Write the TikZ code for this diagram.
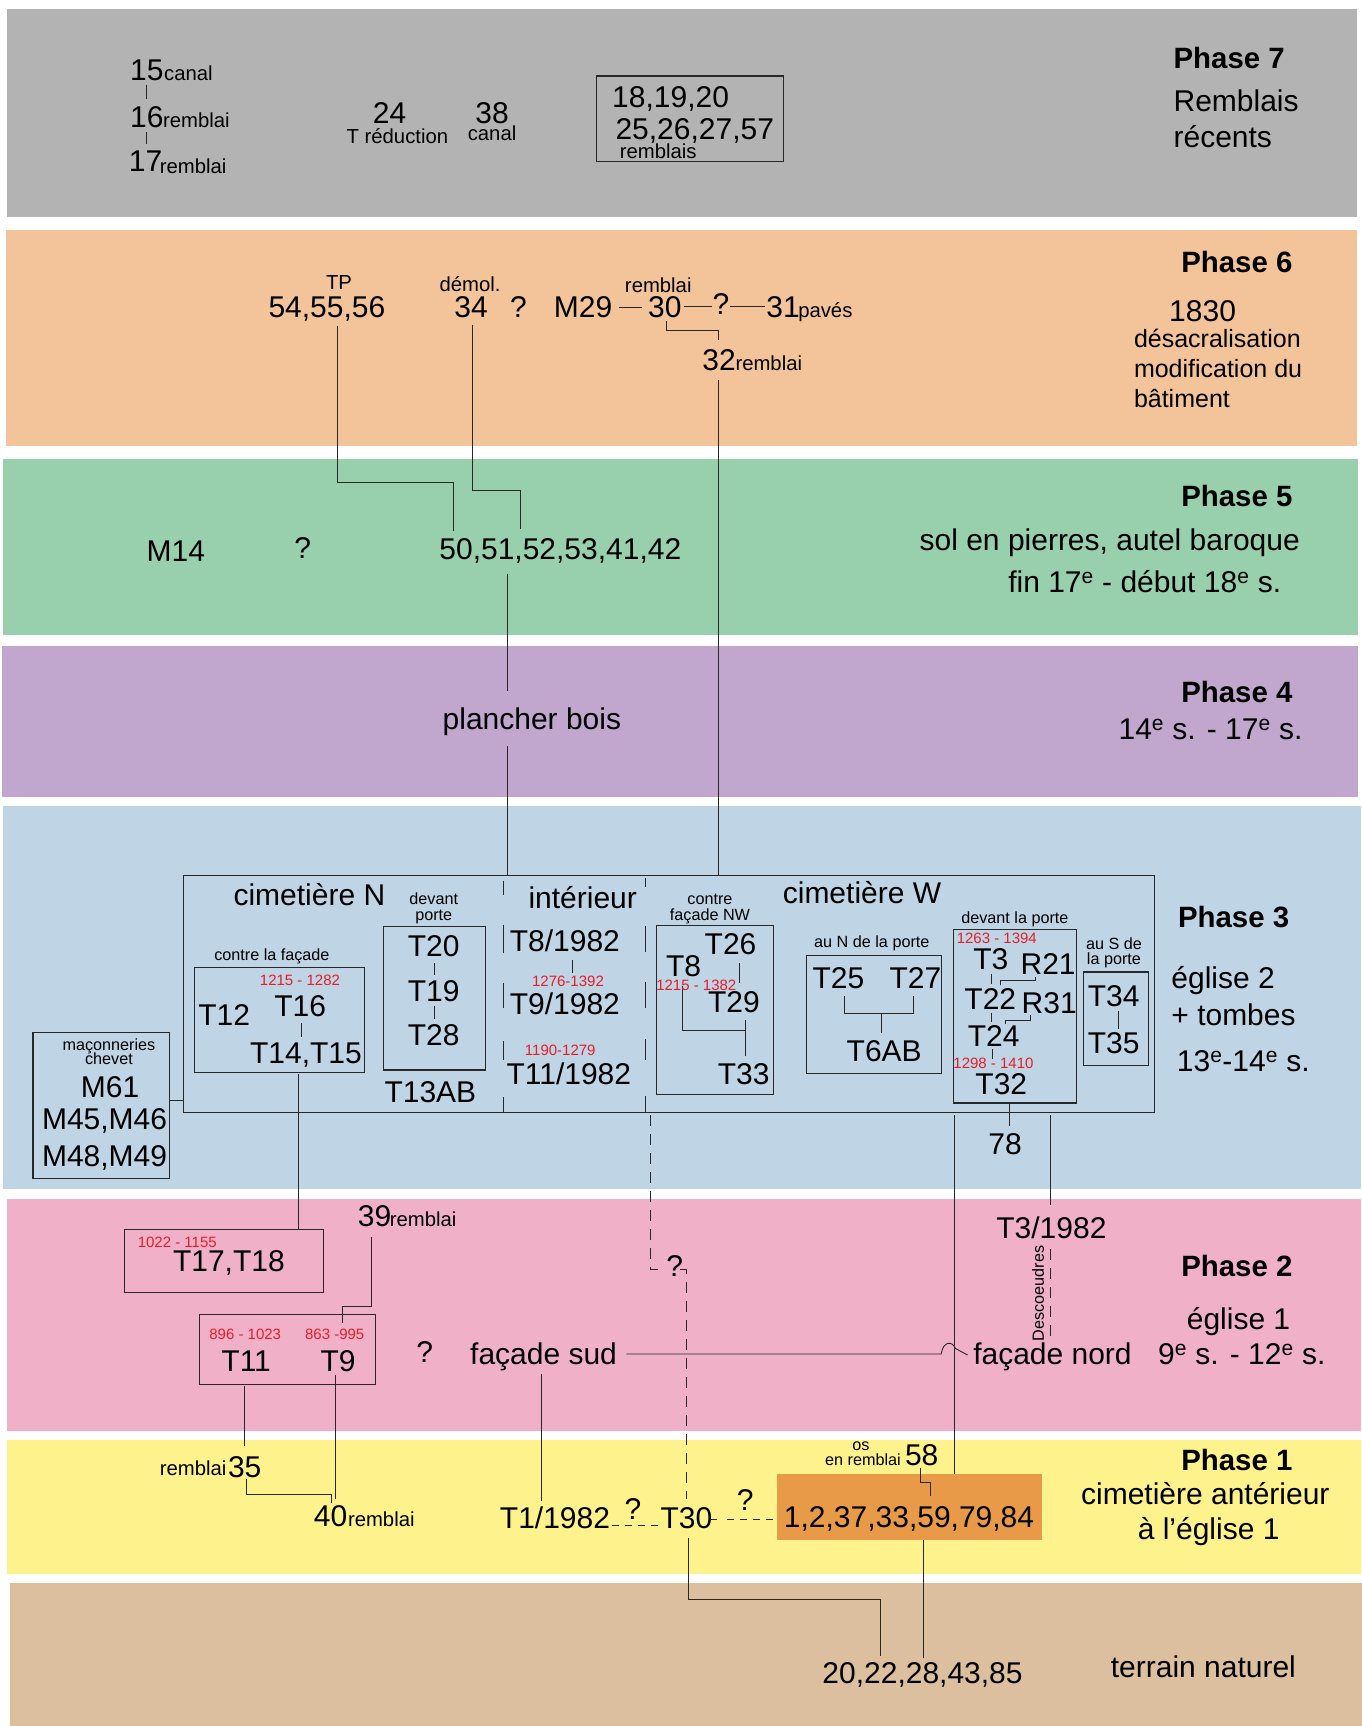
\documentclass[tikz,border=0pt]{standalone}
\usepackage{fontspec}
\setmainfont{Liberation Sans}
\usetikzlibrary{calc}
\definecolor{cseven}{RGB}{179,179,179}
\definecolor{csix}{RGB}{243,195,153}
\definecolor{cfive}{RGB}{152,208,173}
\definecolor{cfour}{RGB}{193,166,205}
\definecolor{cthree}{RGB}{191,212,228}
\definecolor{ctwo}{RGB}{240,176,200}
\definecolor{cone}{RGB}{254,242,141}
\definecolor{czero}{RGB}{220,191,159}
\definecolor{corange}{RGB}{232,154,72}
\definecolor{cred}{RGB}{230,30,40}
\definecolor{cline}{RGB}{40,40,40}
\tikzset{
 tx/.style={font=\fontsize{30}{32}\selectfont, inner sep=0pt},
 ph/.style={font=\fontsize{29.4}{31}\selectfont\bfseries, inner sep=0pt},
 md/.style={font=\fontsize{25}{27}\selectfont, inner sep=0pt},
 sm/.style={font=\fontsize{20.3}{22}\selectfont, inner sep=0pt},
 ti/.style={font=\fontsize{16.2}{17}\selectfont, inner sep=0pt},
 rd/.style={font=\fontsize{15}{16}\selectfont, inner sep=0pt, text=cred},
 ln/.style={draw=cline, line width=0.9pt},
 bx/.style={draw=cline, line width=1.1pt},
 dsh/.style={draw=cline, line width=0.9pt, dash pattern=on 11pt off 8pt},
}
\begin{document}
\begin{tikzpicture}[x=1.1011pt,y=-1.1011pt]
\useasboundingbox (0,0) rectangle (1237,1568);
% bands
\fill[cseven] (6,8) rectangle (1233,197);
\fill[csix] (5,209) rectangle (1233,405);
\fill[cfive] (3,417) rectangle (1234,577);
\fill[cfour] (2,587) rectangle (1234,724);
\fill[cthree] (3,732) rectangle (1236,1080);
\fill[ctwo] (6,1089) rectangle (1236,1300);
\fill[cone] (6,1308) rectangle (1236,1430);
\fill[czero] (9,1438) rectangle (1237,1568);

% ---------------- Phase 7
\node[tx,anchor=base west] (n15) at (118,73) {15};
\node[sm,anchor=base west] (l15) at (149,73) {canal};
\node[tx,anchor=base west] (n16) at (118,116) {16};
\node[sm,anchor=base west] (l16) at (148,116) {remblai};
\node[tx,anchor=base west] (n17) at (117,156) {17};
\node[sm,anchor=base west] (l17) at (145,158) {remblai};
\coordinate (t15a) at (133,77); \coordinate (t15b) at (133,90);
\coordinate (t16a) at (133,120); \coordinate (t16b) at (133,131);
\draw[ln] (t15a) -- (t15b);
\draw[ln] (t16a) -- (t16b);
\node[tx,anchor=base] (n24) at (354,112) {24};
\node[sm,anchor=base] (l24) at (361,130) {T réduction};
\node[tx,anchor=base] (n38) at (447,112) {38};
\node[sm,anchor=base] (l38) at (447,128) {canal};
\draw[bx] (542,69) rectangle (712,147);
\node[tx,anchor=base west] (n18) at (556,98) {18,19,20};
\node[tx,anchor=base west] (n25) at (559,127) {25,26,27,57};
\node[sm,anchor=base west] (l25) at (563,144) {remblais};
\node[ph,anchor=base west] (p7) at (1066,62) {Phase 7};
\node[tx,anchor=base west] (p7a) at (1066,101) {Remblais};
\node[tx,anchor=base west] (p7b) at (1066,134) {récents};

% ---------------- Phase 6
\node[ph,anchor=base west] (p6) at (1073,248) {Phase 6};
\node[tx,anchor=base west] (p6a) at (1062,292) {1830};
\node[md,anchor=base west] (p6b) at (1030,316) {désacralisation};
\node[md,anchor=base west] (p6c) at (1030,343) {modification du};
\node[md,anchor=base west] (p6d) at (1030,370) {bâtiment};
\node[sm,anchor=base] (lTP) at (308,263) {TP};
\node[tx,anchor=base] (n54) at (297,288) {54,55,56};
\node[sm,anchor=base] (ldem) at (427,265) {démol.};
\node[tx,anchor=base] (n34) at (428,288) {34};
\node[tx,anchor=base] (q34) at (471,288) {?};
\node[tx,anchor=base west] (m29) at (503,288) {M29};
\node[sm,anchor=base] (l30) at (598,266) {remblai};
\node[tx,anchor=base] (n30) at (604,288) {30};
\node[tx,anchor=base west] (n31) at (696,288) {31};
\node[sm,anchor=base west] (l31) at (725,288) {pavés};
\node[tx,anchor=base west] (n32) at (638,337) {32};
\node[sm,anchor=base west] (l32) at (668,337) {remblai};
\coordinate (m29r) at (562,279); \coordinate (n30l) at (583,279);
\draw[ln] (m29r) -- (n30l);
\coordinate (n30r) at (621,278); \coordinate (n31l) at (695,278);
\draw[ln] (n30r) -- (n31l);
\node[tx,anchor=base,fill=csix,inner xsep=1pt] (q30) at (655,286) {?};
\coordinate (n30b) at (605,292); \coordinate (n32t) at (653,309);
\draw[ln] (n30b) |- (629,300) -| (n32t);
% 54 and 34 to 50
\node[tx,anchor=base west] (n50) at (399,508) {50,51,52,53,41,42};
\coordinate (n54b) at (307,296); \coordinate (n50a) at (412,482);
\draw[ln] (n54b) |- (360,438) -| (n50a);
\coordinate (n34b) at (429,295); \coordinate (n50b) at (473,481);
\draw[ln] (n34b) |- (450,446) -| (n50b);

% ---------------- Phase 5
\node[tx,anchor=base west] (m14) at (133,510) {M14};
\node[tx,anchor=base] (q5) at (275,507) {?};
\node[ph,anchor=base west] (p5) at (1073,460) {Phase 5};
\node[tx,anchor=base east] (p5a) at (1181,500) {sol en pierres, autel baroque};
\node[tx,anchor=base east] (p5b) at (1164,538) {fin 17\textsuperscript{e} - début 18\textsuperscript{e} s.};

% ---------------- Phase 4
\node[tx,anchor=base west] (pb) at (402,663) {plancher bois};
\node[ph,anchor=base west] (p4) at (1073,638) {Phase 4};
\node[tx,anchor=base west] (p4a) at (1016,672) {14\textsuperscript{e} s. - 17\textsuperscript{e} s.};
\coordinate (n50c) at (461,521); \coordinate (pbt) at (461,628);
\draw[ln] (n50c) -- (pbt);

% ---------------- Phase 3
\coordinate (bigNW) at (167,795); \coordinate (bigSE) at (1049,1011);
\draw[bx] (bigNW) rectangle (bigSE);
\coordinate (pbb) at (461,678);
\draw[ln] (pbb) -- (pbb |- bigNW);
\coordinate (n32b) at (653,345);
\draw[ln] (n32b) -- (n32b |- bigNW);
\node[ph,anchor=base west] (p3) at (1070,843) {Phase 3};
\node[tx,anchor=base west] (p3a) at (1064,898) {église 2};
\node[tx,anchor=base west] (p3b) at (1064,932) {+ tombes};
\node[tx,anchor=base west] (p3c) at (1069,973) {13\textsuperscript{e}-14\textsuperscript{e} s.};

% cimetiere N
\node[tx,anchor=base west] (cN) at (212,823) {cimetière N};
\node[ti,anchor=base] (dv1) at (394,822) {devant};
\node[ti,anchor=base] (dv2) at (394,836) {porte};
\draw[bx] (348,842) rectangle (441,972);
\node[tx,anchor=base] (t20) at (394,869) {T20};
\node[tx,anchor=base] (t19) at (394,910) {T19};
\node[tx,anchor=base] (t28) at (394,950) {T28};
\draw[ln] (395,875) -- (395,886);
\draw[ln] (395,914) -- (395,926);
\node[tx,anchor=base] (t13) at (391,1002) {T13AB};
\node[ti,anchor=base] (clf) at (247,873) {contre la façade};
\draw[bx] (177,879) rectangle (331,974);
\node[rd,anchor=base west] (d16) at (236,895) {1215 - 1282};
\node[tx,anchor=base west] (t16) at (249,923) {T16};
\node[tx,anchor=base west] (t12) at (180,932) {T12};
\draw[ln] (274,929) -- (274,942);
\node[tx,anchor=base west] (t14) at (227,966) {T14,T15};

% interieur
\node[tx,anchor=base west] (int) at (480,825) {intérieur};
\node[tx,anchor=base west] (t8i) at (463,864) {T8/1982};
\draw[ln] (520,872) -- (520,884);
\node[rd,anchor=base] (d9) at (516,896) {1276-1392};
\node[tx,anchor=base west] (t9i) at (463,922) {T9/1982};
\node[rd,anchor=base] (d11) at (509,959) {1190-1279};
\node[tx,anchor=base west] (t11i) at (460,985) {T11/1982};
\foreach \a/\b in {800/813,840/866,893/916,946/963,997/1011}
  \draw[ln] (457,\a) -- (457,\b);
\foreach \a/\b in {798/806,841/865,892/916,944/963,996/1011}
  \draw[ln] (586,\a) -- (586,\b);

% contre facade NW
\node[ti,anchor=base] (cf1) at (645,822) {contre};
\node[ti,anchor=base] (cf2) at (645,836) {façade NW};
\draw[bx] (596,841) rectangle (703,994);
\node[tx,anchor=base west] (t26) at (640,867) {T26};
\node[tx,anchor=base west] (t8) at (605,887) {T8};
\draw[ln] (620,896) |- (677,936);
\draw[ln] (677,927) -- (677,959);
\node[rd,anchor=base west] (d8) at (596,900) {1215 - 1382};
\node[tx,anchor=base west] (t29) at (643,920) {T29};
\node[tx,anchor=base west] (t33) at (652,985) {T33};
\draw[ln] (672,875) -- (672,893);

% cimetiere W
\node[tx,anchor=base west] (cW) at (711,821) {cimetière W};
\node[ti,anchor=base] (auN) at (792,861) {au N de la porte};
\draw[bx] (733,868) rectangle (855,975);
\node[tx,anchor=base west] (t25) at (738,898) {T25};
\node[tx,anchor=base west] (t27) at (808,898) {T27};
\draw[ln] (767,905) |- (830,921) -- (830,905);
\draw[ln] (801,921) -- (801,938);
\node[tx,anchor=base west] (t6) at (769,964) {T6AB};

\node[ti,anchor=base] (dlp) at (922,839) {devant la porte};
\draw[bx] (866,844) rectangle (978,1002);
\node[rd,anchor=base west] (d3) at (869,857) {1263 - 1394};
\node[tx,anchor=base west] (t3) at (884,881) {T3};
\node[tx,anchor=base west] (r21) at (927,885) {R21};
\node[tx,anchor=base west] (t22) at (876,917) {T22};
\node[tx,anchor=base west] (r31) at (928,921) {R31};
\node[tx,anchor=base west] (t24) at (879,951) {T24};
\node[rd,anchor=base west] (d32) at (866,971) {1298 - 1410};
\node[tx,anchor=base west] (t32) at (886,994) {T32};
\draw[ln] (901,885) -- (901,894);
\draw[ln] (909,895) -- (909,891) -- (941,891) -- (941,888);
\draw[ln] (901,920) -- (901,928);
\draw[ln] (913,930) -- (913,927) -- (936,927) -- (936,922);
\draw[ln] (902,953) -- (902,962);

\node[ti,anchor=base] (auS1) at (1012,863) {au S de};
\node[ti,anchor=base] (auS2) at (1012,876) {la porte};
\draw[bx] (984,883) rectangle (1043,968);
\node[tx,anchor=base west] (t34) at (988,914) {T34};
\node[tx,anchor=base west] (t35) at (988,957) {T35};
\draw[ln] (1016,918) -- (1016,935);

% maconneries
\draw[bx] (30,938) rectangle (154,1071);
\node[ti,anchor=base] (mc1) at (99,954) {maçonneries};
\node[ti,anchor=base] (mc2) at (99,967) {chevet};
\node[tx,anchor=base] (m61) at (100,997) {M61};
\node[tx,anchor=base west] (m45) at (38,1026) {M45,M46};
\node[tx,anchor=base west] (m48) at (38,1060) {M48,M49};
\coordinate (mcr) at (154,1000);
\draw[ln] (mcr) -- (mcr -| bigNW);

\coordinate (t32b) at (917,1003);
\draw[ln] (t32b) -- (917,1023);
\node[tx,anchor=base] (n78) at (913,1049) {78};

% ---------------- Phase 2
\node[ph,anchor=base west] (p2) at (1073,1160) {Phase 2};
\node[tx,anchor=base west] (p2a) at (1078,1208) {église 1};
\node[tx,anchor=base west] (p2b) at (1052,1240) {9\textsuperscript{e} s. - 12\textsuperscript{e} s.};

\draw[bx] (113,1117) rectangle (294,1174);
\node[rd,anchor=base west] (d17) at (125,1133) {1022 - 1155};
\node[tx,anchor=base west] (t17) at (157,1155) {T17,T18};
\coordinate (t14b) at (271.5,976);
\draw[ln] (t14b) -- (271.5,1117);

\node[tx,anchor=base west] (n39) at (325,1114) {39};
\node[sm,anchor=base west] (l39) at (354,1114) {remblai};
\draw[bx] (181,1194) rectangle (341,1258);
\coordinate (n39b) at (337,1124);
\draw[ln] (n39b) |- (324,1187) -| (311,1202);
\node[rd,anchor=base west] (d11b) at (190,1217) {896 - 1023};
\node[rd,anchor=base west] (d9b) at (277,1217) {863 -995};
\node[tx,anchor=base west] (t11) at (201,1246) {T11};
\node[tx,anchor=base west] (t9) at (291,1246) {T9};
\node[tx,anchor=base west] (q2) at (378,1238) {?};
\node[tx,anchor=base west] (fs) at (427,1240) {façade sud};
\node[tx,anchor=base west] (fn) at (884,1240) {façade nord};
\node[tx,anchor=base west] (t3b) at (905,1125) {T3/1982};
\node[ti,rotate=90,anchor=center] (desc) at (943,1175) {Descoeudres};
\coordinate (bigB1) at (954,1013);
\draw[ln] (bigB1) -- (954,1095);
\draw[dsh] (954,1135) -- (954,1217);

% long vertical to orange box
\coordinate (bigB2) at (867,1013);
\draw[ln] (bigB2) -- (867,1353);
% facade line with hop
\coordinate (fsr) at (569,1230);
\draw[ln] (fsr) -- (855,1230) .. controls (857,1218) and (865,1218) .. (868,1225) -- (879,1231);

% dashed route with ?
\coordinate (sepB) at (591,1013);
\draw[dsh] (sepB) -- (591,1153) -- (598,1153);
\node[tx,anchor=base] (q2b) at (613,1160) {?};
\draw[dsh] (618,1153) -- (624,1153) -- (624,1362);

\coordinate (fsb) at (492,1248);
\draw[ln] (fsb) -- (492,1364);

% ---------------- Phase 1
\node[ph,anchor=base west] (p1) at (1073,1336) {Phase 1};
\node[tx,anchor=base west] (p1a) at (982,1367) {cimetière antérieur};
\node[tx,anchor=base] (p1b) at (1098,1399) {à l’église 1};

\coordinate (t11b) at (222.5,1259);
\draw[ln] (t11b) -- (222.5,1314);
\node[sm,anchor=base west] (l35) at (145,1340) {remblai};
\node[tx,anchor=base west] (n35) at (207,1342) {35};
\draw[ln] (224,1344) |- (260,1358) -| (301,1365);
\coordinate (t9b) at (305,1249);
\draw[ln] (t9b) -- (305,1362);
\node[tx,anchor=base west] (n40) at (285,1387) {40};
\node[sm,anchor=base west] (l40) at (316,1387) {remblai};

\node[tx,anchor=base west] (t1) at (454,1389) {T1/1982};
\node[tx,anchor=base west] (t30) at (600,1389) {T30};
\draw[draw=cline, line width=0.9pt, dash pattern=on 7pt off 6pt] (556,1386) -- (598,1386);
\node[tx,anchor=base,fill=cone,inner xsep=1pt] (q1a) at (575,1380) {?};

\fill[corange] (706,1339) rectangle (947,1399);
\coordinate (orW) at (706,1380);
\draw[ln] (645,1380) -- (651,1380);
\draw[draw=cline, line width=0.9pt, dash pattern=on 7pt off 6pt] (660,1380) -- (orW);
\node[tx,anchor=base,fill=cone,inner xsep=1pt] (q1b) at (677,1372) {?};
\node[tx,anchor=base west] (nor) at (712,1388) {1,2,37,33,59,79,84};

\node[ti,anchor=base] (os1) at (782,1318) {os};
\node[ti,anchor=base] (os2) at (784,1331) {en remblai};
\node[tx,anchor=base west] (n58) at (822,1331) {58};
\coordinate (n58b) at (836,1334);
\draw[ln] (n58b) -- (836,1347) -- (845,1347) -- (845,1359);

\coordinate (t30b) at (625,1397);
\draw[ln] (t30b) |- (700,1453) -| (800,1504);
\coordinate (orB) at (839,1399);
\draw[ln] (orB) -- (839,1506);

% ---------------- terrain naturel
\node[tx,anchor=base west] (tn) at (747,1529) {20,22,28,43,85};
\node[tx,anchor=base west] (tnl) at (1009,1524) {terrain naturel};
\end{tikzpicture}
\end{document}
